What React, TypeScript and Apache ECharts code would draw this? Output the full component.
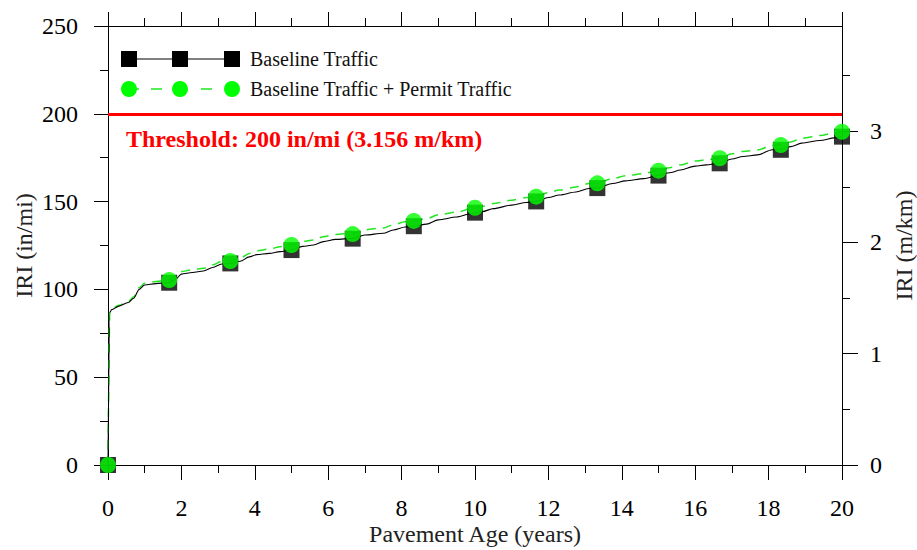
import React, { useEffect, useRef } from "react";
import * as echarts from "echarts";

// ---- data ----
const markerAges = [0, 1.667, 3.333, 5, 6.667, 8.333, 10, 11.667, 13.333, 15, 16.667, 18.333, 20];
const baselineMarkerIRI = [0, 103.8, 114.8, 122.4, 128.9, 136, 143.7, 150.1, 157.7, 164.8, 171.8, 179.5, 187];
const permitMarkerIRI = [0, 105.3, 116.2, 125.3, 131.5, 139, 146.5, 152.8, 160.4, 167.6, 174.7, 182.2, 189.8];

const baselineCurveAges = [0, 0.05, 0.1, 0.3, 0.55, 0.7, 0.85, 1.0, 1.3, 1.667, 1.85, 2.0, 2.3, 2.6, 2.85, 3.1, 3.333, 3.6, 3.85, 4.05, 4.4, 4.69, 5.0, 5.3, 5.6, 5.87, 6.2, 6.667, 7.0, 7.5, 7.77, 8.1, 8.333, 8.68, 9.0, 9.5, 9.9, 10.2, 10.5, 11.0, 11.4, 11.667, 12.0, 12.3, 12.75, 13.1, 13.333, 13.75, 14.1, 14.6, 15.0, 15.3, 15.6, 16.0, 16.3, 16.667, 17.0, 17.3, 17.7, 18.1, 18.333, 18.6, 18.9, 19.4, 19.8, 20];
const baselineCurveIRI = [0, 87, 88.5, 90.5, 92.5, 95, 100, 102.5, 103.3, 103.8, 106, 108.7, 109.6, 110.5, 112.5, 114.5, 114.8, 116, 118.5, 119.8, 120.5, 121.5, 122.6, 124.5, 125.3, 127.2, 128.5, 129.1, 131, 132, 133.8, 135.5, 136, 137.2, 139.6, 141.2, 143.2, 144.3, 146, 148, 149.5, 150.2, 152.3, 153.8, 155.5, 157.5, 157.9, 160.3, 161.8, 163.1, 165, 166.4, 168, 170.2, 170.9, 172, 174.3, 175.7, 176.6, 179.5, 179.8, 181.3, 183.3, 184.8, 186.3, 187];

const permitCurveAges = [0, 0.05, 0.1, 0.3, 0.55, 0.7, 0.85, 1.0, 1.3, 1.667, 1.85, 2.0, 2.3, 2.6, 2.85, 3.1, 3.333, 3.6, 3.85, 4.05, 4.4, 4.69, 5.0, 5.3, 5.6, 5.87, 6.2, 6.667, 7.0, 7.5, 7.77, 8.1, 8.333, 8.68, 9.0, 9.5, 9.9, 10.2, 10.5, 11.0, 11.4, 11.667, 12.0, 12.3, 12.75, 13.1, 13.333, 13.75, 14.1, 14.6, 15.0, 15.3, 15.6, 16.0, 16.3, 16.667, 17.0, 17.3, 17.7, 18.1, 18.333, 18.6, 18.9, 19.4, 19.8, 20];
const permitCurveIRI = [0, 87.5, 89, 91, 93, 95.8, 101, 103.5, 104.5, 105.3, 107.5, 110.2, 111.2, 112, 114, 116, 116.2, 117.8, 120.5, 122, 123, 124.3, 125.4, 127.3, 128.2, 130, 131.3, 132, 134, 135, 136.8, 138.5, 139, 140.2, 142.5, 144, 146, 147.2, 148.9, 150.8, 152.3, 152.9, 155.1, 156.6, 158.3, 160.3, 160.6, 163.1, 164.7, 166, 167.8, 169.3, 170.9, 173.1, 173.8, 174.8, 177.2, 178.6, 179.4, 182, 182.4, 184, 186.1, 187.6, 189.1, 189.8];

const thresholdIRI = 200;
const thresholdLabel = "Threshold: 200 in/mi (3.156 m/km)";
const seriesNames = ["Baseline Traffic", "Baseline Traffic + Permit Traffic"];

const xMin = 0, xMax = 20, xInterval = 2;
const yMin = 0, yMax = 250, yInterval = 50;
const inPerMiPerMPerKm = 63.36;
const rightMajorTicks = [0, 1, 2, 3];

const FONT = "'Liberation Serif', 'Times New Roman', serif";
const GREEN = "#00ff00";
const GREEN_LINE = "#22e622";

const zip = (a: number[], b: number[]) => a.map((v, i) => [v, b[i]]);

export default function App() {
  const ref = useRef<HTMLDivElement>(null);
  useEffect(() => {
    if (!ref.current) return;
    const chart = echarts.init(ref.current, null, { renderer: "svg" });
    const rightMax = yMax / inPerMiPerMPerKm;
    const axisCommon = {
      axisLine: { show: true, onZero: false, lineStyle: { color: "#000", width: 1 } },
      splitLine: { show: false },
      nameMoveOverlap: false,
    };
    chart.setOption({
      animation: false,
      backgroundColor: "#fff",
      grid: { left: 108, right: 75, top: 26, bottom: 85, outerBoundsMode: "none", containLabel: false },
      xAxis: [
        {
          type: "value", min: xMin, max: xMax, interval: xInterval, position: "bottom",
          ...axisCommon,
          axisTick: { show: true, length: 15, lineStyle: { color: "#000" } },
          minorTick: { show: true, splitNumber: 2, length: 8, lineStyle: { color: "#000" } },
          axisLabel: { color: "#000", fontFamily: FONT, fontSize: 24, margin: 31, lineHeight: 24 },
          name: "Pavement Age (years)", nameLocation: "middle", nameGap: 57,
          nameTextStyle: { color: "#222", fontFamily: FONT, fontSize: 24, lineHeight: 24 },
        },
        {
          type: "value", min: xMin, max: xMax, interval: xInterval, position: "top",
          ...axisCommon,
          axisTick: { show: true, length: 14, lineStyle: { color: "#000" } },
          minorTick: { show: true, splitNumber: 2, length: 8, lineStyle: { color: "#000" } },
          axisLabel: { show: false },
        },
      ],
      yAxis: [
        {
          type: "value", min: yMin, max: yMax, interval: yInterval, position: "left",
          ...axisCommon,
          axisTick: { show: true, length: 14, lineStyle: { color: "#000" } },
          minorTick: { show: true, splitNumber: 2, length: 8, lineStyle: { color: "#000" } },
          axisLabel: { color: "#000", fontFamily: FONT, fontSize: 24, margin: 30 },
          name: "IRI (in/mi)", nameLocation: "middle", nameGap: 72,
          nameTextStyle: { color: "#222", fontFamily: FONT, fontSize: 24 },
        },
        {
          type: "value", min: 0, max: rightMax, interval: 1, position: "right",
          ...axisCommon,
          axisTick: { show: true, length: 16, customValues: rightMajorTicks, lineStyle: { color: "#000" } },
          minorTick: { show: true, splitNumber: 2, length: 8, lineStyle: { color: "#000" } },
          axisLabel: { color: "#000", fontFamily: FONT, fontSize: 24, margin: 28, customValues: rightMajorTicks },
          name: "IRI (m/km)", nameLocation: "middle", nameGap: 50,
          nameTextStyle: { color: "#222", fontFamily: FONT, fontSize: 24 },
        },
      ],
      series: [
        {
          type: "line", name: seriesNames[1] + " curve",
          data: zip(permitCurveAges, permitCurveIRI),
          symbol: "none", smooth: 0.3, smoothMonotone: "x",
          lineStyle: { color: GREEN_LINE, width: 1.5, type: [9, 7] }, z: 2,
        },
        {
          type: "line", name: seriesNames[0] + " curve",
          data: zip(baselineCurveAges, baselineCurveIRI),
          symbol: "none", smooth: 0.3, smoothMonotone: "x",
          lineStyle: { color: "#000", width: 1.1 }, z: 3,
          markLine: {
            silent: true, symbol: "none", label: { show: false },
            lineStyle: { color: "#ff0000", width: 3, type: "solid" },
            data: [{ yAxis: thresholdIRI }],
          },
        },
        {
          type: "scatter", name: seriesNames[0],
          data: zip(markerAges, baselineMarkerIRI),
          symbol: "rect", symbolSize: 16, itemStyle: { color: "#000" }, z: 4,
        },
        {
          type: "scatter", name: seriesNames[1],
          data: zip(markerAges, permitMarkerIRI),
          symbol: "circle", symbolSize: 16, itemStyle: { color: GREEN }, z: 5,
        },
      ],
      graphic: [
        { type: "line", shape: { x1: 129, y1: 59, x2: 232, y2: 59 }, style: { stroke: "#000", lineWidth: 1.2 } },
        { type: "rect", shape: { x: 121, y: 51, width: 16, height: 16 }, style: { fill: "#000" } },
        { type: "rect", shape: { x: 172, y: 51, width: 16, height: 16 }, style: { fill: "#000" } },
        { type: "rect", shape: { x: 224, y: 51, width: 16, height: 16 }, style: { fill: "#000" } },
        { type: "text", x: 250, y: 59, style: { text: seriesNames[0], font: `20px ${FONT}`, fill: "#111", verticalAlign: "middle" } },
        { type: "line", shape: { x1: 135, y1: 89, x2: 139, y2: 89 }, style: { stroke: GREEN_LINE, lineWidth: 1.5 } },
        { type: "line", shape: { x1: 151, y1: 89, x2: 162, y2: 89 }, style: { stroke: GREEN_LINE, lineWidth: 1.5 } },
        { type: "line", shape: { x1: 201, y1: 89, x2: 212, y2: 89 }, style: { stroke: GREEN_LINE, lineWidth: 1.5 } },
        { type: "circle", shape: { cx: 129, cy: 89, r: 8 }, style: { fill: GREEN } },
        { type: "circle", shape: { cx: 180, cy: 89, r: 8 }, style: { fill: GREEN } },
        { type: "circle", shape: { cx: 232, cy: 89, r: 8 }, style: { fill: GREEN } },
        { type: "text", x: 250, y: 89, style: { text: seriesNames[1], font: `20px ${FONT}`, fill: "#111", verticalAlign: "middle" } },
        { type: "text", x: 126, y: 139, style: { text: thresholdLabel, font: `bold 24px ${FONT}`, fill: "#ff0000", verticalAlign: "middle" } },
      ],
    });
    return () => chart.dispose();
  }, []);
  return <div ref={ref} style={{ position: "fixed", left: 0, top: 0, width: 917, height: 550, background: "#fff" }} />;
}
